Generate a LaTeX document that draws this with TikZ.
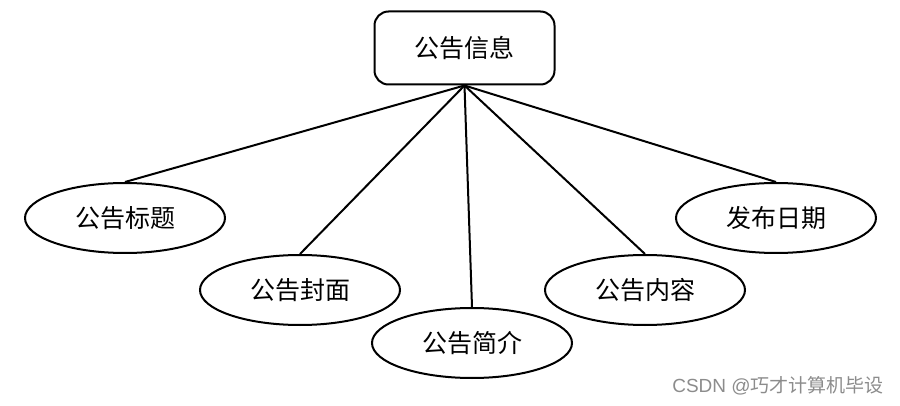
\documentclass[tikz,border=0pt]{standalone}
\usepackage{fontspec}
\newfontfamily\cjk{Noto Sans CJK SC}
\newfontfamily\marksans{Liberation Sans}
\usetikzlibrary{shapes.geometric}
\begin{document}
\begin{tikzpicture}[x=1pt,y=-1pt,
  entity/.style={draw,line width=2pt,rounded corners=14pt,minimum width=180pt,minimum height=73pt,font=\cjk\fontsize{25}{30}\selectfont},
  attr/.style={draw,ellipse,line width=2pt,minimum width=200pt,minimum height=70pt,font=\cjk\fontsize{25}{30}\selectfont},
  link/.style={line width=2pt}]
\useasboundingbox (0,0) rectangle (900,406);

\node[entity] (info) at (464.5,48) {公告信息};

\node[attr] (title) at (125,218) {公告标题};
\node[attr] (cover) at (300,290) {公告封面};
\node[attr] (brief) at (472,343) {公告简介};
\node[attr] (body) at (645,290) {公告内容};
\node[attr] (date) at (776,218) {发布日期};

\draw[link] (info.south) -- (title.north);
\draw[link] (info.south) -- (cover.north);
\draw[link] (info.south) -- (brief.north);
\draw[link] (info.south) -- (body.north);
\draw[link] (info.south) -- (date.north);

\node[text=black!45,font=\marksans\fontsize{19}{22}\selectfont] (mark) at (778,386) {CSDN @{\cjk 巧才计算机毕设}};
\end{tikzpicture}
\end{document}
